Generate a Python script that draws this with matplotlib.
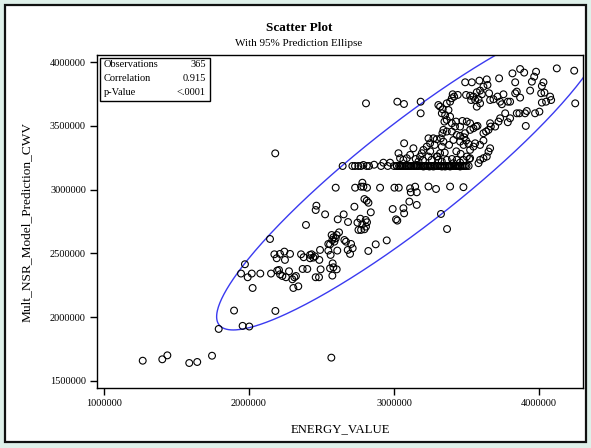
import numpy as np
import matplotlib
matplotlib.use("Agg")
import matplotlib.pyplot as plt
from matplotlib.patches import Rectangle
from matplotlib.ticker import FuncFormatter

# ---- data (values in thousands) ----
energy_mid = [2598,2732,2782,2773,2789,2814,2904,3003,3033,2465,
              2460,2525,2612,2653,2683,2727,2796,2812,2824,2840,
              2768,2805,2814,2748,2782,2755,2773,2796,2807,2991,
              3014,3023,2393,2145,1972,1945,1991,2019,2078,2025,
              2152,2175,2191,2214,2244,2248,2283,2195,2207,2214,
              2230,2276,2255,2299,2313,2324,2306,2340,2359,2377,
              2421,2432,2444,2455,2421,2485,2490,2494,2370,2402,
              2460,2483,2575,2559,2582,2605,2577,2563,2547,2609,
              2559,2575,2582,2570,2598,2605,2621,2658,2669,2704,
              2681,2715,2697,2547,2589,2823,2874,2950,1897,2182,
              1956,2002,1791]
pred_mid = [3015,3015,3054,3023,3023,3015,3015,3015,3015,2874,
            2840,2806,2767,2806,2746,2866,2926,2913,2897,2822,
            2772,2762,2744,2741,2728,2684,2684,2689,2710,2848,
            2767,2757,2723,2613,2415,2342,2313,2342,2342,2229,
            2342,2493,2462,2496,2514,2449,2496,2365,2370,2336,
            2323,2360,2313,2297,2313,2323,2229,2242,2493,2470,
            2488,2493,2467,2477,2462,2449,2527,2375,2378,2378,
            2313,2313,2326,2383,2391,2375,2422,2488,2522,2522,
            2571,2605,2626,2644,2618,2644,2665,2605,2592,2574,
            2527,2540,2496,2574,2592,2519,2571,2602,2052,2049,
            1932,1927,1908]

energy_low = [1267,1402,1437,1588,1643,1745,2568]
pred_low = [1659,1670,1701,1641,1649,1698,1683]

energy_out = [2181,2807,3023,3069,3184,3184,3324,3366,3290]
pred_out = [3284,3676,3689,3671,3689,3598,2809,2691,3005]

energy_row = [2646,2713,2731,2754,2773,2789,2812,2828,2863,2911,
              2927,2957,2973,3000,3019,3035,3054,3070,3088,3111,
              3134,3157,3175,3226,3295,3318,3341,3376,3399,3422,
              3445,3468,3490,3020,3045,3060,3080,3100,3120,3140,
              3165,3190,3200,3215,3235,3250,3260,3280,3305,3330,
              3350,3365,3385,3410,3430,3455,3480,3500,3515,3045,
              3100,3150,3210,3260,3320,3380,3440]
pred_row = [3185,3185,3185,3185,3185,3193,3185,3185,3195,3185,
            3211,3185,3211,3185,3185,3185,3185,3185,3185,3185,
            3185,3185,3185,3185,3185,3185,3185,3185,3185,3185,
            3185,3185,3185,3185,3185,3185,3185,3185,3185,3185,
            3185,3185,3185,3185,3185,3185,3185,3185,3185,3185,
            3185,3185,3185,3185,3185,3185,3185,3185,3185,3185,
            3185,3185,3185,3185,3185,3185,3185]

energy_q = [3111,3146,3116,3157,3065,3106,3070,3157]
pred_q = [3010,3023,2979,2979,2854,2906,2814,2880]

energy_top = [3870,3898,3980,3967,3951,4031,4020,3817,3836,4123,4243,4250,
              3491,3537,3589,3640,3645,3617,3725]
pred_top = [3945,3917,3924,3885,3846,3841,3812,3911,3841,3950,3932,3676,
            3841,3841,3854,3864,3820,3807,3872]

energy_hi = [3405,3415,3440,3497,3525,3548,3571,3594,3606,3583,
             3560,3532,3594,3571,3656,3663,3686,3714,3732,3744,
             3755,3785,3801,3836,3847,3870,3939,4015,4038,4077,
             4084,4049,4020,4003,3973,3916,3904,3865,3847,3801,
             3785,3767,3732,3721,3909,3698,3668,3652,3663,3635,
             3617]
pred_hi = [3747,3729,3742,3742,3736,3729,3763,3776,3747,3708,
           3702,3702,3676,3650,3755,3702,3708,3729,3689,3669,
           3747,3689,3689,3755,3768,3721,3776,3755,3760,3729,
           3702,3689,3682,3611,3598,3616,3598,3598,3598,3559,
           3528,3598,3559,3533,3499,3494,3494,3468,3520,3455,
           3442]

energy_c = [3306,3318,3336,3330,3364,3387,3399,3376,3353,3387,
            3364,3348,3399,3428,3456,3472,3502,3525,3548,3566,
            3576,3525,3490,3456,3433,3421,3399,3364,3341,3334,
            3410,3456,3484,3497,3514,3525,3548,3617,3594,3560,
            3250,3300,3350,3400,3430,3280,3380,3460,3520,3200,
            3150,3330,3480]
pred_c = [3663,3650,3629,3598,3676,3689,3716,3624,3585,3572,
          3546,3533,3520,3533,3494,3538,3533,3520,3481,3494,
          3499,3468,3442,3421,3428,3494,3455,3455,3468,3442,
          3389,3376,3410,3384,3358,3311,3337,3384,3350,3363,
          3300,3260,3290,3240,3300,3350,3350,3280,3240,3230,
          3240,3220,3350]

energy_d = [3663,3652,3640,3617,3594,3583,3525,3502,3479,3456,
            3433,3410,3387,3364,3353,3330,3306,3295,3318,3330,
            3341,3323,3295,3272,3249,3238,3226,3203,3192,3180,
            3169,3157,3134,3070,3031,3042,3065,3088,3111,3238,
            3260,3272,3244,3203,3456,3238,3387,3479]
pred_d = [3324,3298,3259,3246,3233,3207,3246,3259,3233,3212,
          3233,3207,3181,3233,3181,3181,3233,3259,3285,3337,
          3376,3402,3395,3402,3363,3402,3337,3311,3285,3259,
          3220,3193,3324,3363,3285,3246,3233,3246,3272,3259,
          3233,3181,3181,3181,3181,3024,3024,3019]

x_ticks = [1000000, 2000000, 3000000, 4000000]
y_ticks = [1500000, 2000000, 2500000, 3000000, 3500000, 4000000]
stats_labels = ["Observations", "Correlation", "p-Value"]
stats_values = ["365", "0.915", "<.0001"]
n_obs = 365
corr_reported = 0.915

energy = np.array(energy_mid + energy_low + energy_out + energy_row + energy_q
                  + energy_top + energy_hi + energy_c + energy_d, float) * 1000
pred = np.array(pred_mid + pred_low + pred_out + pred_row + pred_q
                + pred_top + pred_hi + pred_c + pred_d, float) * 1000

W, H = 591, 448
fig = plt.figure(figsize=(W / 100, H / 100), dpi=100)
fig.patch.set_facecolor("#dff1ea")
fig.patches.append(Rectangle((5 / W, 1 - 442 / H), 581 / W, 437 / H,
                             transform=fig.transFigure, facecolor="white",
                             edgecolor="#111111", lw=1.6, zorder=-10))

serif = ["Liberation Serif", "DejaVu Serif"]
ax = fig.add_axes([97 / W, 1 - 388 / H, 486 / W, 333 / H])
ax.set_zorder(5)
ax.set_facecolor("white")
ax.scatter(energy, pred, s=24, facecolors="none", edgecolors="black",
           linewidths=0.8, zorder=3)

# 95% prediction ellipse (means/SDs from the data, correlation as reported)
mean = np.array([energy.mean(), pred.mean()])
sx, sy = energy.std(ddof=1), pred.std(ddof=1)
cov = np.array([[sx * sx, corr_reported * sx * sy],
                [corr_reported * sx * sy, sy * sy]])
d = n_obs - 2
fq = d / 2 * ((0.05) ** (-2 / d) - 1)
c = 2 * (n_obs - 1) * (n_obs + 1) / (n_obs * (n_obs - 2)) * fq
L = np.linalg.cholesky(cov)
t = np.linspace(0, 2 * np.pi, 400)
circ = np.vstack([np.cos(t), np.sin(t)])
ell = mean[:, None] + np.sqrt(c) * (L @ circ)
ax.plot(ell[0], ell[1], color="#3a3af0", lw=1.0, zorder=2)

ax.set_xlim(951700, 4303700)
ax.set_ylim(1445100, 4054900)
ax.set_xticks(x_ticks)
ax.set_yticks(y_ticks)
fmt = FuncFormatter(lambda v, p: f"{int(round(v))}")
ax.xaxis.set_major_formatter(fmt)
ax.yaxis.set_major_formatter(fmt)
for s in ax.spines.values():
    s.set_linewidth(1.0)
ax.tick_params(direction="out", length=5, width=1.0, labelsize=7.5,
               pad=3)
for lab in ax.get_xticklabels() + ax.get_yticklabels():
    lab.set_family(serif)

ax.set_xlabel("ENERGY_VALUE", family=serif, fontsize=9.2, labelpad=11)
ax.set_ylabel("Mult_NSR_Model_Prediction_CWV", family=serif, fontsize=9.6,
              labelpad=12)

fig.text(299 / W, 1 - 28 / H, "Scatter Plot", family=serif, fontsize=9.5,
         fontweight="bold", ha="center", va="center")
fig.text(299 / W, 1 - 44 / H, "With 95% Prediction Ellipse", family=serif,
         fontsize=8, ha="center", va="center")

# statistics box
ax.add_patch(Rectangle((0.006, 0.862), 0.2265, 0.129, transform=ax.transAxes,
                       facecolor="white", edgecolor="black", lw=1.0, zorder=5))
rows_y = [0.970, 0.928, 0.886]
for lab, val, yy in zip(stats_labels, stats_values, rows_y):
    ax.text(0.0145, yy, lab, transform=ax.transAxes, family=serif,
            fontsize=7.5, ha="left", va="center", zorder=6)
    ax.text(0.224, yy, val, transform=ax.transAxes, family=serif,
            fontsize=7.5, ha="right", va="center", zorder=6)

fig.savefig("out.png", dpi=100, facecolor=fig.get_facecolor())
